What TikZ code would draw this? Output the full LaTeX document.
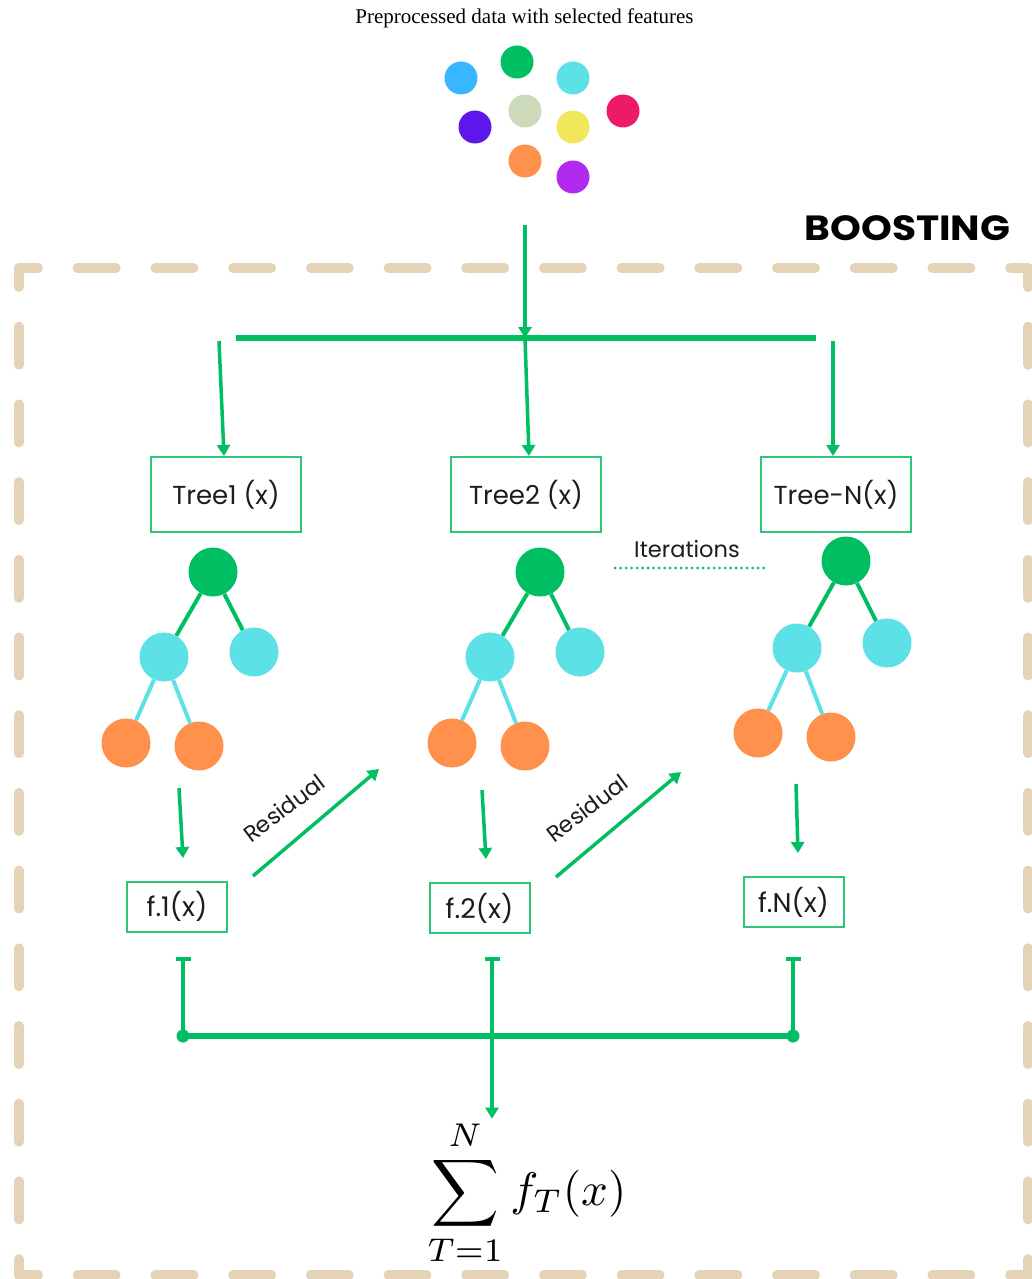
\documentclass[tikz,border=0pt]{standalone}
\usepackage[no-math]{fontspec}
\setmainfont{Liberation Serif}
\newfontfamily\geo{Poppins}
\usetikzlibrary{arrows.meta}
\definecolor{bgreen}{HTML}{00BF63}
\definecolor{boxgreen}{HTML}{2EC77A}
\definecolor{tancol}{HTML}{E4D3B6}
\definecolor{cyanc}{HTML}{5CE1E6}
\definecolor{orangec}{HTML}{FF914D}
\definecolor{txtc}{HTML}{1C1C1C}
\definecolor{dblue}{HTML}{38B6FF}
\definecolor{dsage}{HTML}{CDDAB9}
\definecolor{dred}{HTML}{EE1A65}
\definecolor{dpurple}{HTML}{5E17EB}
\definecolor{dyellow}{HTML}{F0E75A}
\definecolor{dviolet}{HTML}{B12AEE}
\begin{document}
\begin{tikzpicture}[x=1pt,y=-1pt,
  border/.style={draw=tancol, line width=10pt, line cap=round, dash pattern=on 38pt off 39.7pt, dash phase=19pt},
  gline/.style={draw=bgreen, line width=3.5pt},
  garrow/.style={gline, -{Triangle[width=13pt,length=11pt]}},
  thickbar/.style={draw=bgreen, line width=5.5pt},
  treebox/.style={draw=boxgreen, line width=2pt, minimum width=150pt, minimum height=75pt, inner sep=0pt, font=\geo\fontsize{26}{30}\selectfont, text=txtc},
  fbox/.style={draw=boxgreen, line width=2pt, minimum width=100pt, minimum height=50pt, inner sep=0pt, font=\geo\fontsize{27}{32}\selectfont, text=txtc},
  dot/.style={circle, fill=#1, minimum size=33pt, inner sep=0pt, draw=none},
  tnode/.style={circle, fill=#1, minimum size=49pt, inner sep=0pt, draw=none},
  gedge/.style={draw=bgreen, line width=4pt},
  cedge/.style={draw=cyanc, line width=4pt},
  lbl/.style={font=\geo\fontsize{22.5}{26}\selectfont, text=txtc, inner sep=0pt}
]
\useasboundingbox (0,0) rectangle (1032,1279);

% dashed frame
\draw[border] (19,268) -- (1028,268);
\draw[border] (19,268) -- (19,1275);
\draw[border] (1028,268) -- (1028,1275);
\draw[border] (19,1275) -- (1028,1275);

% title and data points
\node[anchor=base, font=\fontsize{21}{25}\selectfont, inner sep=0pt] (title) at (524.5,24) {Preprocessed data with selected features};
\node[dot=dblue] (d1) at (461,78) {};
\node[dot=bgreen] (d2) at (517,62) {};
\node[dot=cyanc] (d3) at (573,78) {};
\node[dot=dsage] (d4) at (525,111) {};
\node[dot=dred] (d5) at (623,111) {};
\node[dot=dpurple] (d6) at (475,127) {};
\node[dot=dyellow] (d7) at (573,127) {};
\node[dot=orangec] (d8) at (525,161) {};
\node[dot=dviolet] (d9) at (573,177) {};

\node[anchor=base, font=\geo\bfseries\fontsize{35}{40}\selectfont, inner sep=0pt, xscale=1.12] (boost) at (907.5,240) {BOOSTING};

% distribution bar
\coordinate (top) at (525,225);
\coordinate (barC) at (525,338);
\coordinate (barL) at (236,338);
\coordinate (barR) at (816,338);
\coordinate (b1) at (219,341);
\coordinate (b3) at (833,341);
\draw[thickbar] (barL) -- (barR);
\draw[garrow] (top) -- (barC);

% tree boxes
\node[treebox] (t1) at (226,494.5) {Tree1 (x)};
\node[treebox] (t2) at (526,494.5) {Tree2 (x)};
\node[treebox] (t3) at (836,494.5) {Tree-N(x)};
\draw[garrow] (b1) -- (t1.north -| 224,0);
\draw[garrow] (barC) -- (t2.north -| 529,0);
\draw[garrow] (b3) -- (t3.north -| 833,0);

% tree 1
\node[tnode=bgreen] (r1) at (213,572) {};
\node[tnode=cyanc] (c1a) at (164,657) {};
\node[tnode=cyanc] (c1b) at (254,652) {};
\node[tnode=orangec] (o1a) at (126,743) {};
\node[tnode=orangec] (o1b) at (199,746) {};
\draw[gedge] (r1) -- (c1a);
\draw[gedge] (r1) -- (c1b);
\draw[cedge] (c1a) -- (o1a);
\draw[cedge] (c1a) -- (o1b);

% tree 2
\node[tnode=bgreen] (r2) at (540,572) {};
\node[tnode=cyanc] (c2a) at (490,657) {};
\node[tnode=cyanc] (c2b) at (580,652) {};
\node[tnode=orangec] (o2a) at (452,743) {};
\node[tnode=orangec] (o2b) at (525,746) {};
\draw[gedge] (r2) -- (c2a);
\draw[gedge] (r2) -- (c2b);
\draw[cedge] (c2a) -- (o2a);
\draw[cedge] (c2a) -- (o2b);

% tree N
\node[tnode=bgreen] (r3) at (846,561) {};
\node[tnode=cyanc] (c3a) at (797,648) {};
\node[tnode=cyanc] (c3b) at (887,643) {};
\node[tnode=orangec] (o3a) at (758,733) {};
\node[tnode=orangec] (o3b) at (831,737) {};
\draw[gedge] (r3) -- (c3a);
\draw[gedge] (r3) -- (c3b);
\draw[cedge] (c3a) -- (o3a);
\draw[cedge] (c3a) -- (o3b);

% iterations
\node[lbl] (iter) at (687,549) {Iterations};
\coordinate (itL) at (615,568);
\coordinate (itR) at (765,568);
\draw[draw=bgreen, line width=3pt, line cap=round, dash pattern=on 0pt off 5.5pt] (itL) -- (itR);

% f boxes
\node[fbox] (f1) at (177,906.5) {f.1(x)};
\node[fbox] (f2) at (479.5,908) {f.2(x)};
\node[fbox] (f3) at (793.5,902) {f.N(x)};

\coordinate (a1s) at (179,788); \coordinate (a1e) at (183,858);
\coordinate (a2s) at (482,790); \coordinate (a2e) at (486,859);
\coordinate (a3s) at (796,784); \coordinate (a3e) at (798,853);
\draw[garrow] (a1s) -- (a1e);
\draw[garrow] (a2s) -- (a2e);
\draw[garrow] (a3s) -- (a3e);

% residual arrows
\coordinate (r1s) at (253,876); \coordinate (r1e) at (379,769);
\coordinate (r2s) at (556,877); \coordinate (r2e) at (681,772);
\draw[garrow] (r1s) -- (r1e);
\draw[garrow] (r2s) -- (r2e);
\node[lbl, rotate=37] (res1) at (284,808) {Residual};
\node[lbl, rotate=37] (res2) at (587,808) {Residual};

% collection
\coordinate (s1) at (183,957); \coordinate (j1) at (183,1036);
\coordinate (s2) at (492,957); \coordinate (j2) at (492,1036);
\coordinate (s3) at (793,957); \coordinate (j3) at (793,1036);
\draw[thickbar] (j1) -- (j3);
\draw[gline, {Bar[width=15pt]}-] (s1) -- (j1);
\draw[gline, {Bar[width=15pt]}-] (s3) -- (j3);
\fill[bgreen] (j1) circle (6.5pt);
\fill[bgreen] (j3) circle (6.5pt);
\node[scale=4.7, inner sep=0pt] (sum) at (527,1193) {$\displaystyle\sum_{T=1}^{N} f_T(x)$};
\draw[gline, {Bar[width=15pt]}-{Triangle[width=13pt,length=11pt]}] (s2) -- (sum.north -| s2);
\end{tikzpicture}
\end{document}
